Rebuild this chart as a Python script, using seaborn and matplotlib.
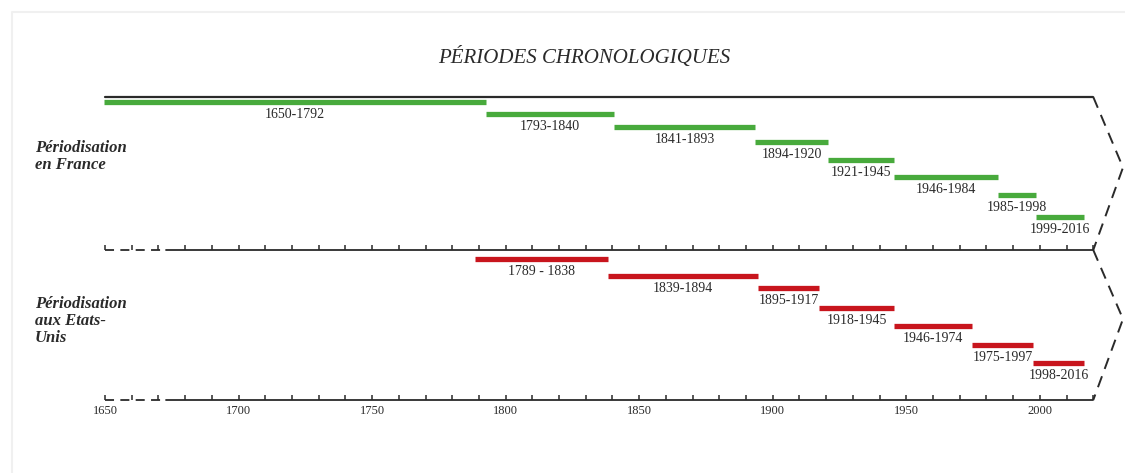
import numpy as np
import pandas as pd
import matplotlib
matplotlib.use("Agg")
import matplotlib.pyplot as plt
import seaborn as sns

# ================================================================
# DATA
# ================================================================
FR_START = [1650, 1793, 1841, 1894, 1921, 1946, 1985, 1999]
FR_END = [1792, 1840, 1893, 1920, 1945, 1984, 1998, 2016]
FR_LABELS = ["1650-1792", "1793-1840", "1841-1893", "1894-1920",
             "1921-1945", "1946-1984", "1985-1998", "1999-2016"]

US_START = [1789, 1839, 1895, 1918, 1946, 1975, 1998]
US_END = [1838, 1894, 1917, 1945, 1974, 1997, 2016]
US_LABELS = ["1789 - 1838", "1839-1894", "1895-1917", "1918-1945",
             "1946-1974", "1975-1997", "1998-2016"]

TICK_YEARS = list(range(1650, 2021, 10))
TICK_LABELS = [1650, 1700, 1750, 1800, 1850, 1900, 1950, 2000]

TITLE = "PÉRIODES CHRONOLOGIQUES"
FR_TITLE = "Périodisation\nen France"
US_TITLE = "Périodisation\naux Etats-\nUnis"

# ================================================================
# LAYOUT (pixel rows, top = 0)
# ================================================================
FR_ROWS = [102, 114, 127, 142, 160, 177, 195, 217]
US_ROWS = [259, 276, 288, 308, 326, 345, 363]
TOP_LINE, MID_AXIS, BOT_AXIS = 97, 250, 400
GREEN = "#48aa3c"
RED = "#c8151d"
INK = "#2a2a2a"
SERIF = "Liberation Serif"

PX_PER_YEAR = 2.671
X0_PX, X0_YEAR = 105, 1650
AXIS_END = 2020
BREAK_END = 1673


def px_to_year(px):
    return X0_YEAR + (px - X0_PX) / PX_PER_YEAR


def periods_frame(starts, ends, rows):
    recs = []
    for i, (s, e, r) in enumerate(zip(starts, ends, rows)):
        recs.append({"period": i, "year": s - 0.5, "row": r})
        recs.append({"period": i, "year": e + 0.5, "row": r})
    return pd.DataFrame(recs)


def draw_periods(ax, starts, ends, labels, rows, color):
    df = periods_frame(starts, ends, rows)
    sns.lineplot(data=df, x="year", y="row", units="period", estimator=None,
                 sort=False, color=color, linewidth=3.8, solid_capstyle="butt",
                 legend=False, ax=ax)
    for s, e, lab, r in zip(starts, ends, labels, rows):
        ax.text((s + e) / 2, r + 12, lab, ha="center", va="center",
                fontsize=10, family=SERIF, color=INK)


def draw_axis(ax, y):
    ax.plot([X0_YEAR, BREAK_END], [y, y], color=INK, lw=1.3,
            dashes=(5, 3.5))
    ax.plot([BREAK_END, AXIS_END], [y, y], color=INK, lw=1.3)
    ax.vlines(TICK_YEARS, y - 5, y, color=INK, lw=1.1)


def draw_chevron(ax, y_top, y_bot):
    tip = px_to_year(1123)
    ax.plot([AXIS_END, tip, AXIS_END], [y_top, (y_top + y_bot) / 2 - 6, y_bot],
            color=INK, lw=1.4, dashes=(6, 4))


# ================================================================
# FIGURE
# ================================================================
sns.set_style("white")
fig = plt.figure(figsize=(11.25, 4.73), dpi=100)
ax = fig.add_axes([0, 0, 1, 1])
ax.set_xlim(px_to_year(0), px_to_year(1125))
ax.set_ylim(473, 0)
ax.axis("off")

# faint frame
ax.plot([px_to_year(12), px_to_year(12), px_to_year(1125)], [473, 12, 12],
        color="#f0f0f0", lw=1.5)

ax.text(px_to_year(584), 58, TITLE, ha="center", va="center", fontsize=15,
        family=SERIF, style="italic", color=INK)

# frame lines
ax.plot([X0_YEAR, AXIS_END], [TOP_LINE, TOP_LINE], color=INK, lw=1.6)
draw_axis(ax, MID_AXIS)
draw_axis(ax, BOT_AXIS)
draw_chevron(ax, TOP_LINE, MID_AXIS)
draw_chevron(ax, MID_AXIS, BOT_AXIS)

for t in TICK_LABELS:
    ax.text(t, 411, str(t), ha="center", va="center", fontsize=9,
            family=SERIF, color=INK)

draw_periods(ax, FR_START, FR_END, FR_LABELS, FR_ROWS, GREEN)
draw_periods(ax, US_START, US_END, US_LABELS, US_ROWS, RED)

ax.text(px_to_year(35), 140, FR_TITLE, ha="left", va="top", fontsize=12,
        family=SERIF, style="italic", weight="bold", color=INK,
        linespacing=1.1)
ax.text(px_to_year(35), 296, US_TITLE, ha="left", va="top", fontsize=12,
        family=SERIF, style="italic", weight="bold", color=INK,
        linespacing=1.1)

ax.set_xlabel("")
ax.set_ylabel("")
fig.savefig("out.png", dpi=100, facecolor="white")
